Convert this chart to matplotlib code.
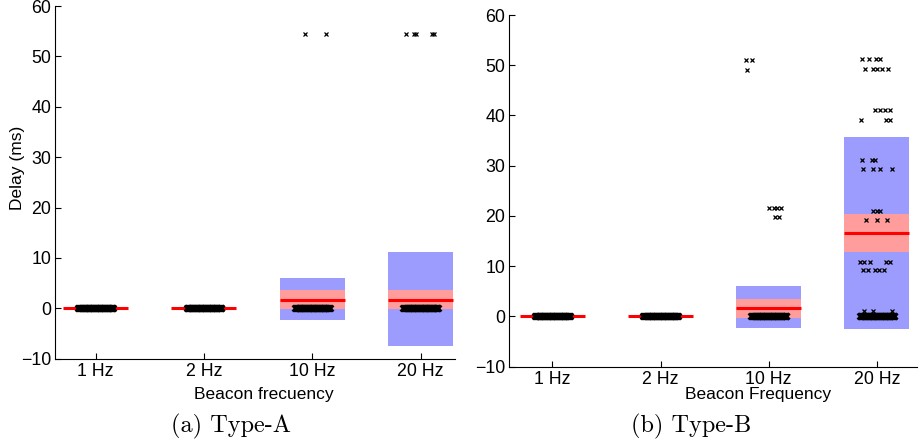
import matplotlib
matplotlib.use("Agg")
import matplotlib.pyplot as plt
import numpy as np

# ================================
# Data
# ================================
categories = ["1 Hz", "2 Hz", "10 Hz", "20 Hz"]

# Type-A: mean, SEM band (pink), SD band (blue)
a_mean = [0.0, 0.0, 1.7, 1.7]
a_sem_lo = [0.0, 0.0, -0.1, -0.1]
a_sem_hi = [0.0, 0.0, 3.6, 3.6]
a_sd_lo = [0.0, 0.0, -2.3, -7.4]
a_sd_hi = [0.0, 0.0, 6.0, 11.2]

# Type-B
b_mean = [0.0, 0.0, 1.6, 16.7]
b_sem_lo = [0.0, 0.0, -0.4, 12.8]
b_sem_hi = [0.0, 0.0, 3.5, 20.4]
b_sd_lo = [0.0, 0.0, -2.3, -2.5]
b_sd_hi = [0.0, 0.0, 6.0, 35.8]

# the dense cluster of samples at 0 ms (jitter offsets as drawn)
zero_dx = [-0.16, -0.152, -0.143, -0.135, -0.126, -0.118, -0.11, -0.1,
           -0.092, -0.083, -0.075, -0.066, -0.058, -0.05, -0.041, -0.032,
           -0.024, -0.015, -0.007, 0.002, 0.01, 0.019, 0.027, 0.036,
           0.044, 0.053, 0.061, 0.07, 0.078, 0.087, 0.095, 0.104,
           0.112, 0.121, 0.13, 0.138, 0.147, 0.155, 0.16]

# Type-A samples away from 0
a_grp = [2, 2, 3, 3, 3, 3, 3]
a_dx = [-0.071, 0.129, -0.133, -0.062, -0.043, 0.107, 0.125]
a_val = [54.4, 54.4, 54.4, 54.4, 54.4, 54.4, 54.4]

# Type-B samples away from 0
b_grp = [2, 2, 2,
         2, 2, 2, 2, 2, 2,
         3, 3, 3, 3,
         3, 3, 3, 3, 3,
         3, 3, 3, 3,
         3, 3, 3,
         3, 3, 3,
         3, 3, 3, 3,
         3, 3, 3,
         3, 3, 3,
         3, 3, 3, 3, 3,
         3, 3, 3, 3, 3,
         3, 3, 3]
b_dx = [-0.21, -0.157, -0.2,
        0.003, 0.05, 0.075, 0.11, 0.06, 0.095,
        -0.14, -0.074, -0.009, 0.028,
        -0.11, -0.037, 0.0, 0.046, 0.1,
        -0.018, 0.028, 0.074, 0.12,
        -0.148, 0.083, 0.12,
        -0.135, -0.05, -0.02,
        -0.13, -0.04, 0.03, 0.14,
        -0.04, 0.0, 0.03,
        -0.1, 0.0, 0.09,
        -0.16, -0.12, -0.065, 0.085, 0.12,
        -0.13, -0.085, -0.02, 0.02, 0.065,
        -0.12, -0.04, 0.14]
b_val = [51.0, 51.0, 49.1,
         21.6, 21.6, 21.6, 21.6, 19.7, 19.7,
         51.2, 51.2, 51.2, 51.2,
         49.3, 49.3, 49.3, 49.3, 49.3,
         41.1, 41.1, 41.1, 41.1,
         39.1, 39.1, 39.1,
         31.1, 31.1, 31.1,
         29.3, 29.3, 29.3, 29.3,
         21.0, 21.0, 21.0,
         19.1, 19.1, 19.1,
         10.9, 10.9, 10.9, 10.9, 10.9,
         9.2, 9.2, 9.2, 9.2, 9.2,
         1.0, 1.0, 1.0]

a_zero_groups = [0, 1, 2, 3]
b_zero_groups = [0, 1, 2, 3]


def drawPanel(ax, mean, sem_lo, sem_hi, sd_lo, sd_hi, grp, dx, val, zero_groups):
    pos = np.arange(1, len(categories) + 1)
    half = 0.3
    for i, p in enumerate(pos):
        if sd_hi[i] > sd_lo[i]:
            ax.fill_between([p - half, p + half], sd_lo[i], sd_hi[i],
                            color="#9c9cff", lw=0, zorder=1)
        if sem_hi[i] > sem_lo[i]:
            ax.fill_between([p - half, p + half], sem_lo[i], sem_hi[i],
                            color="#ff9c9c", lw=0, zorder=2)
        ax.plot([p - half, p + half], [mean[i], mean[i]], color="#ff0000",
                lw=2.2, solid_capstyle="butt", zorder=3)

    # samples at zero
    for g in zero_groups:
        ax.plot(pos[g] + np.array(zero_dx), np.zeros(len(zero_dx)), "x",
                color="k", ms=3.8, mew=1.9, zorder=4)
    # remaining samples
    xs = [pos[g] + d for g, d in zip(grp, dx)]
    ax.plot(xs, val, "x", color="k", ms=3.4, mew=0.9, zorder=4)

    ax.set_ylim(-10, 60)
    ax.set_yticks(np.arange(-10, 61, 10))
    ax.set_xticks(pos)
    ax.set_xticklabels(categories)
    ax.spines["top"].set_visible(False)
    ax.spines["right"].set_visible(False)
    ax.tick_params(direction="in", length=4, width=0.8, labelsize=12.8, pad=3)


plt.rcParams["font.family"] = ["Liberation Sans", "DejaVu Sans"]
plt.rcParams["axes.unicode_minus"] = True

fig = plt.figure(figsize=(9.21, 4.47), dpi=100)
ax0 = fig.add_axes([0.060, 0.1975, 0.434, 0.789])
ax1 = fig.add_axes([0.553, 0.1797, 0.4423, 0.7867])

drawPanel(ax0, a_mean, a_sem_lo, a_sem_hi, a_sd_lo, a_sd_hi,
          a_grp, a_dx, a_val, a_zero_groups)
drawPanel(ax1, b_mean, b_sem_lo, b_sem_hi, b_sd_lo, b_sd_hi,
          b_grp, b_dx, b_val, b_zero_groups)

ax0.set_xlim(0.627, 4.317)
ax1.set_xlim(0.603, 4.367)

ax0.set_ylabel("Delay (ms)", fontsize=12.5)
ax0.yaxis.set_label_coords(-0.076, 0.54)
ax0.set_xlabel("Beacon frecuency", fontsize=12.5)
ax0.xaxis.set_label_coords(0.521, -0.079)
ax1.set_xlabel("Beacon Frequency", fontsize=12.5)
ax1.xaxis.set_label_coords(0.611, -0.057)

fig.text(231.3 / 921, 1 - 426.7 / 447, "(a) Type-A", family="cmr10",
         fontsize=17.5, ha="center", va="center")
fig.text(691.3 / 921, 1 - 426.7 / 447, "(b) Type-B", family="cmr10",
         fontsize=17.5, ha="center", va="center")

plt.savefig("out.png", dpi=100)
